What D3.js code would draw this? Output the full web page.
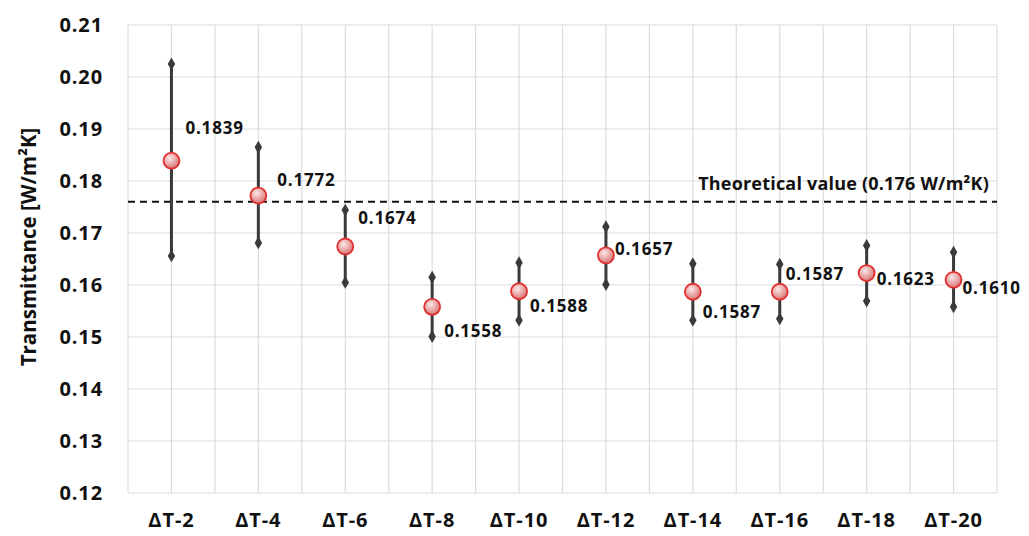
<!DOCTYPE html>
<html>
<head>
<meta charset="utf-8">
<script src="https://cdn.jsdelivr.net/npm/d3@7/dist/d3.min.js"></script>
<style>
  html, body { margin: 0; padding: 0; background: #fff; }
  svg { display: block; }
  text { font-family: "Open Sans", "Noto Sans", sans-serif; font-weight: 700; fill: #111; }
</style>
</head>
<body>
<svg id="chart" width="1029" height="536"></svg>
<script>
// Measured transmittance per temperature step, with error-bar ranges
const categories = ["ΔT-2", "ΔT-4", "ΔT-6", "ΔT-8", "ΔT-10", "ΔT-12", "ΔT-14", "ΔT-16", "ΔT-18", "ΔT-20"];
const meanValues = [0.1839, 0.1772, 0.1674, 0.1558, 0.1588, 0.1657, 0.1587, 0.1587, 0.1623, 0.1610];
const upperValues = [0.2025, 0.1865, 0.1744, 0.1615, 0.1643, 0.1712, 0.1641, 0.1640, 0.1676, 0.1663];
const lowerValues = [0.1656, 0.1681, 0.1605, 0.1501, 0.1532, 0.1601, 0.1532, 0.1535, 0.1569, 0.1558];
const yTicks = [0.12, 0.13, 0.14, 0.15, 0.16, 0.17, 0.18, 0.19, 0.20, 0.21];
const theoreticalValue = 0.176;
const theoreticalLabel = "Theoretical value (0.176 W/m²K)";
const yTitle = "Transmittance [W/m²K]";

// Value-label offsets from each marker (dx, dy in px)
const labelOffset = {
  "ΔT-2": [14, -33], "ΔT-4": [19, -16], "ΔT-6": [13, -28], "ΔT-8": [12, 24],
  "ΔT-10": [11, 15], "ΔT-12": [9, -6], "ΔT-14": [10, 20], "ΔT-16": [6, -18],
  "ΔT-18": [10, 6], "ΔT-20": [9, 8]
};

const svg = d3.select("#chart");
const m = { left: 128, right: 1029 - 997, top: 25, bottom: 536 - 493 };
const W = 1029 - m.left - m.right, H = 536 - m.top - m.bottom;

const defs = svg.append("defs");
const grad = defs.append("radialGradient").attr("id", "markerFill")
  .attr("cx", "40%").attr("cy", "35%").attr("r", "65%");
grad.append("stop").attr("offset", "0%").attr("stop-color", "#fbe9e9");
grad.append("stop").attr("offset", "60%").attr("stop-color", "#e9a3a3");
grad.append("stop").attr("offset", "100%").attr("stop-color", "#d67777");

const x = d3.scaleBand().domain(categories).range([0, W]).padding(0);
const y = d3.scaleLinear().domain([0.12, 0.21]).range([H, 0]);

const g = svg.append("g").attr("transform", `translate(${m.left},${m.top})`);

// Grid: horizontal at each tick, vertical at band edges and centres
const grid = g.append("g").attr("stroke", "#dcdcdc").attr("stroke-width", 1.2);
grid.selectAll("line.h").data(yTicks).join("line")
  .attr("x1", 0).attr("x2", W).attr("y1", d => y(d)).attr("y2", d => y(d));
const vLines = [];
categories.forEach(c => {
  vLines.push(x(c));
  vLines.push(x(c) + x.bandwidth() / 2);
});
vLines.push(W);
grid.selectAll("line.v").data(vLines).join("line")
  .attr("x1", d => d).attr("x2", d => d).attr("y1", 0).attr("y2", H);

// Axes (text only, no domain lines)
const yAxis = g.append("g").call(d3.axisLeft(y).tickValues(yTicks).tickFormat(d3.format(".2f")).tickSize(0).tickPadding(25));
yAxis.select(".domain").remove();
yAxis.selectAll("text").style("font-size", "20px").style("letter-spacing", "0.9px")
  .style("font-family", "'Open Sans', sans-serif").style("font-weight", 700).attr("fill", "#111");

const xAxis = g.append("g").attr("transform", `translate(0,${H})`)
  .call(d3.axisBottom(x).tickSize(0).tickPadding(20));
xAxis.select(".domain").remove();
xAxis.selectAll("text").style("font-size", "20px").style("letter-spacing", "0.9px")
  .style("font-family", "'Open Sans', sans-serif").style("font-weight", 700).attr("fill", "#111");

svg.append("text")
  .attr("transform", `translate(36,${m.top + H / 2 - 12}) rotate(-90)`)
  .attr("text-anchor", "middle").style("font-size", "20.5px").text(yTitle);

// Theoretical reference line
g.append("line").attr("x1", 0).attr("x2", W)
  .attr("y1", y(theoreticalValue)).attr("y2", y(theoreticalValue))
  .attr("stroke", "#111").attr("stroke-width", 2).attr("stroke-dasharray", "7,5");
g.append("text").attr("x", W - 8).attr("y", y(theoreticalValue) - 12)
  .attr("text-anchor", "end").style("font-size", "18px").style("letter-spacing", "0.2px")
  .text(theoreticalLabel);

// Error bars with diamond caps
const pts = categories.map((c, i) => ({ c, mean: meanValues[i], hi: upperValues[i], lo: lowerValues[i] }));
const cx = d => x(d.c) + x.bandwidth() / 2;
const bars = g.append("g");
bars.selectAll("line").data(pts).join("line")
  .attr("x1", cx).attr("x2", cx).attr("y1", d => y(d.hi)).attr("y2", d => y(d.lo))
  .attr("stroke", "#3a3a3a").attr("stroke-width", 3);
const diamond = d3.symbol().type(d3.symbolDiamond).size(48);
const caps = pts.flatMap(d => [{ x: cx(d), v: d.hi }, { x: cx(d), v: d.lo }]);
bars.selectAll("path").data(caps).join("path")
  .attr("d", diamond).attr("transform", d => `translate(${d.x},${y(d.v)})`)
  .attr("fill", "#3a3a3a");

// Mean markers
g.append("g").selectAll("circle").data(pts).join("circle")
  .attr("cx", cx).attr("cy", d => y(d.mean)).attr("r", 8)
  .attr("fill", "url(#markerFill)").attr("stroke", "#e0302f").attr("stroke-width", 1.8);

// Value labels
g.append("g").selectAll("text").data(pts).join("text")
  .attr("x", d => cx(d) + labelOffset[d.c][0])
  .attr("y", d => y(d.mean) + labelOffset[d.c][1])
  .attr("dy", "0.35em").style("font-size", "17px").style("letter-spacing", "0.8px")
  .text(d => d3.format(".4f")(d.mean));
</script>
</body>
</html>
